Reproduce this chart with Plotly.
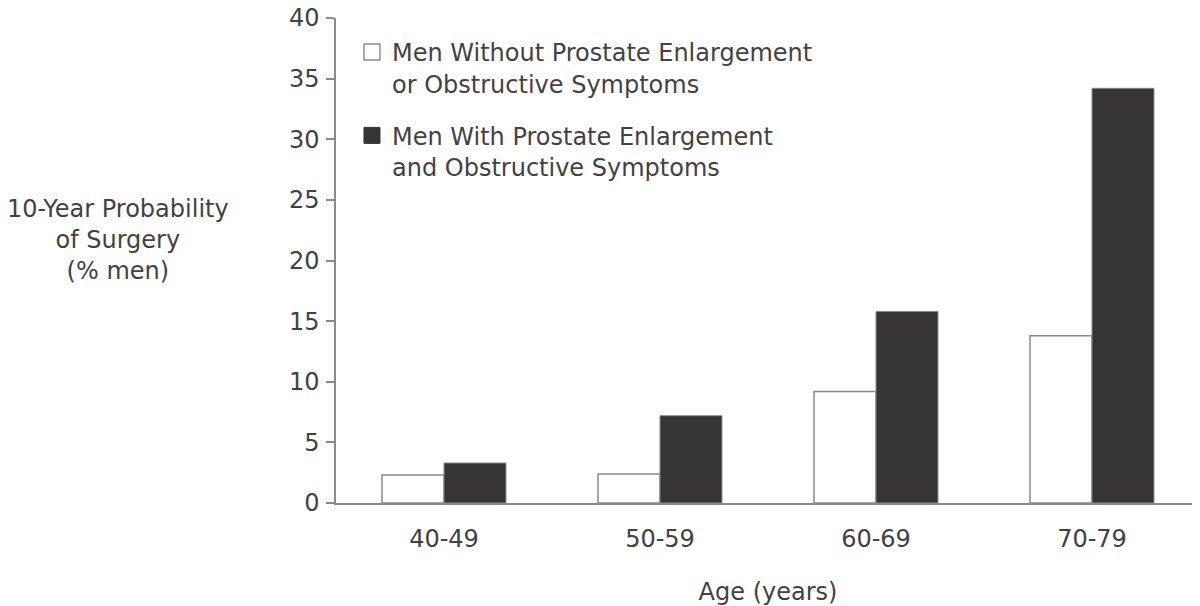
import plotly.graph_objects as go

age_groups = ["40-49", "50-59", "60-69", "70-79"]
without_enlargement = [2.3, 2.4, 9.2, 13.8]
with_enlargement = [3.3, 7.2, 15.8, 34.2]
y_ticks = [0, 5, 10, 15, 20, 25, 30, 35, 40]

name_without = "Men Without Prostate Enlargement<br>or Obstructive Symptoms"
name_with = "Men With Prostate Enlargement<br>and Obstructive Symptoms"

FONT = "DejaVu Sans"
TXT = "#424242"
EDGE = "#8a8a8a"
DARK = "#363435"

W, H = 1192, 598
L, T, B = 328, 10, 103
PW = W - L
PH = H - T - B

fig = go.Figure()
fig.add_trace(go.Bar(x=age_groups, y=without_enlargement, marker=dict(color="white", line=dict(color=EDGE, width=1.5)),
                     showlegend=False, name=name_without))
fig.add_trace(go.Bar(x=age_groups, y=with_enlargement, marker=dict(color=DARK, line=dict(color=EDGE, width=1)),
                     showlegend=False, name=name_with))
# legend entries
fig.add_trace(go.Scatter(x=[None], y=[None], mode="markers", name=name_without, legendgroup="a",
                         marker=dict(symbol="square", size=18, color="white", line=dict(color="#555", width=1))))
fig.add_trace(go.Scatter(x=[None], y=[None], mode="markers", name=name_with, legendgroup="b",
                         marker=dict(symbol="square", size=18, color=DARK, line=dict(color=DARK, width=1))))

fig.update_layout(
    width=W, height=H,
    margin=dict(l=L, r=0, t=T, b=B, autoexpand=False),
    paper_bgcolor="white", plot_bgcolor="white",
    font=dict(family=FONT, size=24, color=TXT),
    barmode="group", bargap=0.426, bargroupgap=0,
    legend=dict(x=0.0185, y=1 - 11.9 / PH, xanchor="left", yanchor="top", valign="top",
                tracegroupgap=18, font=dict(family=FONT, size=24, color=TXT),
                bgcolor="rgba(0,0,0,0)"),
    xaxis=dict(range=[-0.5, 3.5], showline=True, linecolor=EDGE, linewidth=1.5, ticks="",
               showgrid=False, zeroline=False, ticklabelstandoff=13,
               title=dict(text="Age (years)", standoff=38, font=dict(family=FONT, size=24, color=TXT))),
    yaxis=dict(range=[0, 40], tickvals=y_ticks, showline=True, linecolor=EDGE, linewidth=1.5,
               ticks="outside", ticklen=8, tickcolor=EDGE, tickwidth=1.5, showgrid=False, zeroline=False,
               ticklabelstandoff=2, ticklabeloverflow="allow"),
    annotations=[dict(text="10-Year Probability<br>of Surgery<br>(% men)", xref="paper", yref="paper",
                      x=(110 - L) / PW, y=(H - B - 232) / PH, xanchor="center", yanchor="middle",
                      showarrow=False, align="center", font=dict(family=FONT, size=24, color=TXT))],
)

fig.write_html("out.html")
